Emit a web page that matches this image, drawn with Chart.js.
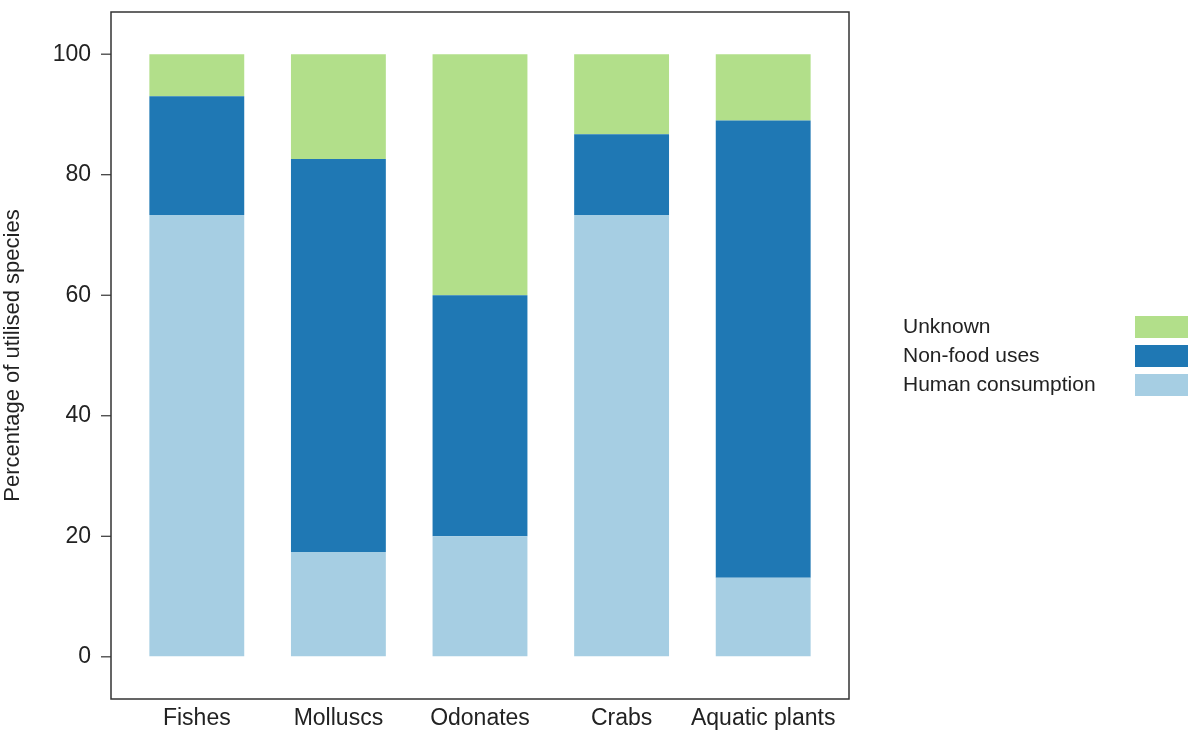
<!DOCTYPE html>
<html>
<head>
<meta charset="utf-8">
<script src="https://cdn.jsdelivr.net/npm/chart.js@4"></script>
<style>
  html, body { margin: 0; padding: 0; background: #fff; overflow: hidden; }
  canvas { display: block; }
</style>
</head>
<body>
<canvas id="chart" width="1188" height="732"></canvas>
<script>
// Data (percent of utilised species)
const categories = ["Fishes", "Molluscs", "Odonates", "Crabs", "Aquatic plants"];
const humanConsumption = [73.3, 17.4, 20, 73.3, 13.1];
const nonFoodUses = [19.7, 65.2, 40, 13.4, 75.9];
const unknownUse = [7, 17.4, 40, 13.3, 11];
const yTicks = [0, 20, 40, 60, 80, 100];

const FONT = "'Liberation Sans', Arial, Helvetica, sans-serif";
const TEXT = "#222";

// Frame, y tick marks and the right-hand key
const framePlugin = {
  id: "frame",
  afterDraw(chart) {
    const ctx = chart.ctx;
    const area = chart.chartArea;
    const yScale = chart.scales.y;
    const left = area.left - 15, right = area.right + 15;
    ctx.save();
    ctx.strokeStyle = "#333";
    ctx.lineWidth = 1.5;
    ctx.strokeRect(left, area.top, right - left, area.bottom - area.top);
    // tick marks
    ctx.lineWidth = 1.2;
    yTicks.forEach(v => {
      const y = yScale.getPixelForValue(v);
      ctx.beginPath();
      ctx.moveTo(left - 10, y);
      ctx.lineTo(left, y);
      ctx.stroke();
    });
    // legend: text left, key on the right
    const items = chart.data.datasets.slice().reverse();
    ctx.font = "21px " + FONT;
    ctx.textBaseline = "middle";
    ctx.textAlign = "left";
    items.forEach((ds, i) => {
      const cy = 327 + i * 29;
      ctx.fillStyle = TEXT;
      ctx.fillText(ds.label, 903, cy);
      ctx.fillStyle = ds.backgroundColor;
      ctx.fillRect(1135, cy - 11, 60, 22);
    });
    ctx.restore();
  }
};

new Chart(document.getElementById("chart"), {
  type: "bar",
  data: {
    labels: categories,
    datasets: [
      { label: "Human consumption", data: humanConsumption, backgroundColor: "#a6cee3" },
      { label: "Non\u2010food uses", data: nonFoodUses, backgroundColor: "#1f78b4" },
      { label: "Unknown", data: unknownUse, backgroundColor: "#b2df8a" }
    ]
  },
  options: {
    responsive: false,
    animation: false,
    layout: { padding: { top: 12, right: 354, bottom: 0, left: 0 } },
    datasets: { bar: { barPercentage: 0.67, categoryPercentage: 1 } },
    plugins: { legend: { display: false }, tooltip: { enabled: false } },
    scales: {
      x: {
        stacked: true,
        grid: { display: false, drawTicks: false },
        border: { display: false },
        ticks: { color: TEXT, font: { family: FONT, size: 23 }, padding: 6, maxRotation: 0, autoSkip: false },
        afterFit(scale) { scale.height = 33; }
      },
      y: {
        stacked: true,
        min: -7,
        max: 107,
        // invisible tick marks only to push the labels left of the frame
        grid: { display: true, drawOnChartArea: false, drawTicks: true, tickLength: 35, color: "rgba(0,0,0,0)" },
        border: { display: false },
        afterBuildTicks(scale) { scale.ticks = yTicks.map(v => ({ value: v })); },
        ticks: { color: TEXT, font: { family: FONT, size: 23 }, padding: 0 },
        title: {
          display: true,
          text: "Percentage of utilised species",
          color: TEXT,
          font: { family: FONT, size: 22 },
          padding: { top: 0, bottom: 0 }
        },
        afterFit(scale) {
          scale.width = 126;
          scale.paddingTop = 0;
          scale.paddingBottom = 0;
        }
      }
    }
  },
  plugins: [framePlugin]
});
</script>
</body>
</html>
